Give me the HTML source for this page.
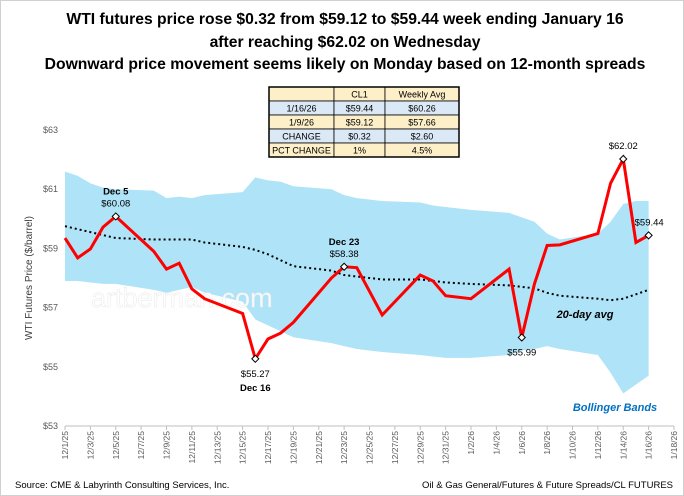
<!DOCTYPE html>
<html><head><meta charset="utf-8">
<style>
body{margin:0;background:#fff;font-family:"Liberation Sans",sans-serif;}
#wrap{position:relative;width:684px;height:496px;overflow:hidden;border:1px solid #d0d0d0;box-sizing:border-box}
svg text{font-family:"Liberation Sans",sans-serif}
</style></head>
<body>
<div id="wrap">
<svg id="chart" width="684" height="496">
  <g font-weight="bold" font-size="15.7" text-anchor="middle" fill="#000">
    <text x="344" y="23">WTI futures price rose $0.32 from $59.12 to $59.44 week ending January 16</text>
    <text x="344" y="46">after reaching $62.02 on Wednesday</text>
    <text x="344" y="68">Downward price movement seems likely on Monday based on 12-month spreads</text>
  </g>
</svg>
</div>
<script>
const dayOffsets=[0,1,2,3,4,7,8,9,10,11,14,15,16,17,18,21,22,23,25,28,29,30,32,35,36,37,38,39,42,43,44,45,46];
const priceValues=[59.35,58.68,58.98,59.72,60.08,58.9,58.3,58.5,57.63,57.3,56.8,55.27,55.94,56.14,56.5,58.0,58.38,58.35,56.75,58.1,57.9,57.4,57.3,58.3,55.99,57.8,59.1,59.12,59.5,61.2,62.02,59.2,59.44];
const upperBand=[61.6,61.45,61.2,61.05,61.0,60.95,60.7,60.75,60.7,60.8,60.9,61.4,61.3,61.25,61.1,61.0,60.8,60.7,60.6,60.55,60.45,60.4,60.3,60.2,60.05,59.9,59.5,59.3,59.5,59.9,60.5,60.6,60.6];
const lowerBand=[57.9,57.9,57.85,57.8,57.8,57.6,57.5,57.6,57.7,57.5,57.2,56.6,56.4,56.2,56.0,55.8,55.7,55.6,55.5,55.4,55.35,55.3,55.3,55.4,55.55,55.6,55.7,55.6,55.4,54.8,54.1,54.4,54.7];
const avg20=[59.75,59.65,59.55,59.45,59.35,59.3,59.3,59.3,59.3,59.2,59.05,58.95,58.8,58.6,58.4,58.25,58.1,58.05,57.95,57.95,57.9,57.85,57.8,57.75,57.7,57.65,57.5,57.4,57.3,57.25,57.3,57.45,57.6];
const yTicks=[53,55,57,59,61,63];
const xTickLabels=["12/1/25","12/3/25","12/5/25","12/7/25","12/9/25","12/11/25","12/13/25","12/15/25","12/17/25","12/19/25","12/21/25","12/23/25","12/25/25","12/27/25","12/29/25","12/31/25","1/2/26","1/4/26","1/6/26","1/8/26","1/10/26","1/12/26","1/14/26","1/16/26","1/18/26"];
const annotations=[{i:4,lines:["Dec 5","$60.08"],pos:"above"},{i:11,lines:["$55.27","Dec 16"],pos:"below"},{i:16,lines:["Dec 23","$58.38"],pos:"above"},{i:24,lines:["$55.99"],pos:"below"},{i:30,lines:["$62.02"],pos:"above"},{i:32,lines:["$59.44"],pos:"right"}];

const X0=64,X1=673,Y0=425,Y1=129,DMAX=48,VMIN=53,VMAX=63;
const xs=d=>X0+(X1-X0)*d/DMAX;
const ys=v=>Y0-(Y0-Y1)*(v-VMIN)/(VMAX-VMIN);
const NS="http://www.w3.org/2000/svg";
const svg=document.getElementById('chart');
function mk(tag,attrs,parent){const e=document.createElementNS(NS,tag);for(const k in attrs)e.setAttribute(k,attrs[k]);(parent||svg).appendChild(e);return e;}

let bp=dayOffsets.map((d,i)=>xs(d)+","+ys(upperBand[i]));
for(let i=dayOffsets.length-1;i>=0;i--)bp.push(xs(dayOffsets[i])+","+ys(lowerBand[i]));
const band=mk('polygon',{points:bp.join(' '),fill:'#afe3f7'});



const wm=mk('text',{x:90,y:306,'font-size':27,fill:'#fff','fill-opacity':0.85,stroke:'#e8e8e8','stroke-width':0.5});
wm.textContent='artberman.com';



const ax=mk('line',{x1:X0,y1:Y0,x2:X1,y2:Y0,stroke:'#bfbfbf','stroke-width':1});


yTicks.forEach(v=>{
  const t=mk('text',{x:57,y:ys(v)+3,'font-size':9,fill:'#595959','text-anchor':'end'});
  t.textContent='$'+v;
  
  
});
xTickLabels.forEach((l,i)=>{
  const x=xs(i*2);
  const tk=mk('line',{x1:x,y1:Y0,x2:x,y2:Y0+4,stroke:'#bfbfbf'});
  
  
  const t=mk('text',{x:0,y:0,'font-size':8.5,fill:'#595959','text-anchor':'end',transform:`translate(${x+3},${Y0+5}) rotate(-90)`});
  t.textContent=l;
  
  
});
const yt=mk('text',{x:0,y:0,'font-size':10,fill:'#404040','text-anchor':'middle',transform:'translate(31,277) rotate(-90)'});
yt.textContent='WTI Futures Price ($/barrel)';



const al=mk('polyline',{points:dayOffsets.map((d,i)=>xs(d)+","+ys(avg20[i])).join(' '),fill:'none',stroke:'#000','stroke-width':2,'stroke-dasharray':'2 3'});



const pl=mk('polyline',{points:dayOffsets.map((d,i)=>xs(d)+","+ys(priceValues[i])).join(' '),fill:'none',stroke:'#ff0000','stroke-width':3,'stroke-linejoin':'miter'});



annotations.forEach(a=>{
  const x=xs(dayOffsets[a.i]),y=ys(priceValues[a.i]);
  const m=mk('path',{d:`M${x} ${y-3.5}L${x+3.5} ${y}L${x} ${y+3.5}L${x-3.5} ${y}Z`,fill:'#fff',stroke:'#000','stroke-width':1});
  
  
  a.lines.forEach((ln,j)=>{
    let tx=x,ty,anchor='middle';
    if(a.pos==='above')ty=y-10-(a.lines.length-1-j)*12;
    else if(a.pos==='below')ty=y+18+j*14;
    else{tx=x-14;ty=y-10;anchor='start';}
    const t=mk('text',{x:tx,y:ty,'font-size':9.5,'font-weight':j===0&&a.lines.length>1&&a.pos==='above'||(a.pos==='below'&&j===1)?'bold':'normal',fill:'#000','text-anchor':anchor});
    t.textContent=ln;
    
    
  });
});

const l1=mk('text',{x:584,y:317,'font-size':11,'font-weight':'bold','font-style':'italic',fill:'#000','text-anchor':'middle'});
l1.textContent='20-day avg';


const l2=mk('text',{x:614,y:410,'font-size':11,'font-weight':'bold','font-style':'italic',fill:'#0070c0','text-anchor':'middle'});
l2.textContent='Bollinger Bands';



const f1=mk('text',{x:14,y:487,'font-size':9.5,fill:'#000'});
f1.textContent='Source: CME & Labyrinth Consulting Services, Inc.';


const f2=mk('text',{x:672,y:487,'font-size':9.5,fill:'#000','text-anchor':'end'});
f2.textContent='Oil & Gas General/Futures & Future Spreads/CL FUTURES';



const rows=[["","CL1","Weekly Avg"],["1/16/26","$59.44","$60.26"],["1/9/26","$59.12","$57.66"],["CHANGE","$0.32","$2.60"],["PCT CHANGE","1%","4.5%"]];
const cols=[268,333,384,458],ry=86,rh=14;
const tg=mk('g',{});


rows.forEach((r,i)=>{
  const fill=(i===1||i===3)?'#dbe9f7':'#fdefc8';
  r.forEach((c,j)=>{
    const rc=mk('rect',{x:cols[j],y:ry+i*rh,width:cols[j+1]-cols[j],height:rh,fill:fill,stroke:'#000','stroke-width':0.8},tg);
    
    
    const t=mk('text',{x:(cols[j]+cols[j+1])/2,y:ry+i*rh+10.5,'font-size':9,fill:'#000','text-anchor':'middle'},tg);
    t.textContent=c;
    
    
  });
});
mk('rect',{x:268,y:86,width:190,height:70,fill:'none',stroke:'#000','stroke-width':1.5},tg);
</script>
</body></html>
